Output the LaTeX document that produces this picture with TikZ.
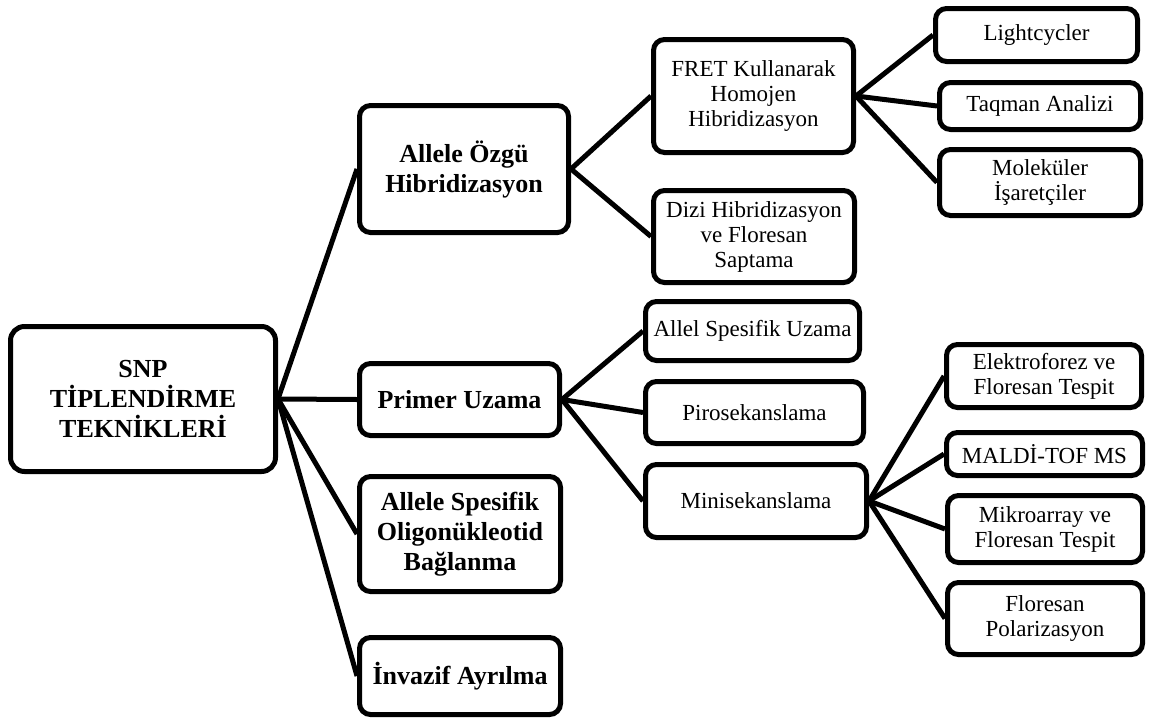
\documentclass[tikz,border=0pt]{standalone}
\usepackage{fontspec}
\setmainfont{Liberation Serif}
\usepackage{tikz}

\begin{document}
\begin{tikzpicture}[
  x=1pt, y=-1pt,
  every node/.style={font=\fontsize{23}{25}\selectfont},
  techbox/.style={rectangle, draw, line width=5pt, rounded corners=11pt,
    align=center, inner sep=2pt},
  mainbox/.style={techbox, font=\fontsize{26}{30}\selectfont\bfseries},
  conn/.style={line width=5pt},
]
\useasboundingbox (0,0) rectangle (1158,720);

% Root
\node[mainbox, rounded corners=14pt, minimum width=265pt, minimum height=145pt] (snp) at (143,399)
  {SNP\\TİPLENDİRME\\TEKNİKLERİ};

% Main techniques
\node[mainbox, minimum width=209pt, minimum height=127pt] (ozgu) at (464,169) {Allele Özgü\\Hibridizasyon};
\node[mainbox, minimum width=200pt, minimum height=72pt] (primer) at (459.5,399.5) {Primer Uzama};
\node[mainbox, minimum width=201pt, minimum height=115pt] (oligo) at (460,534) {Allele Spesifik\\Oligonükleotid\\Bağlanma};
\node[mainbox, minimum width=201pt, minimum height=77pt] (invazif) at (460,676) {İnvazif Ayrılma};

% Hybridization branch
\node[techbox, minimum width=200pt, minimum height=113pt] (fret) at (753.5,96) {FRET Kullanarak\\Homojen\\Hibridizasyon};
\node[techbox, minimum width=201pt, minimum height=92pt] (dizi) at (754,236.5) {Dizi Hibridizasyon\\ve Floresan\\Saptama};
\node[techbox, minimum width=202pt, minimum height=53pt] (light) at (1036.5,35) {Lightcycler};
\node[techbox, minimum width=201pt, minimum height=47pt] (taqman) at (1040,106) {Taqman Analizi};
\node[techbox, minimum width=201pt, minimum height=66pt] (molek) at (1040,182.5) {Moleküler\\İşaretçiler};

% Primer extension branch
\node[techbox, minimum width=214pt, minimum height=59pt] (uzama) at (752.5,331) {Allel Spesifik Uzama};
\node[techbox, minimum width=218pt, minimum height=62pt] (piro) at (754.5,412.5) {Pirosekanslama};
\node[techbox, minimum width=221pt, minimum height=73pt] (mini) at (756,501) {Minisekanslama};
\node[techbox, minimum width=195pt, minimum height=63pt] (elektro) at (1044,376) {Elektroforez ve\\Floresan Tespit};
\node[techbox, minimum width=196pt, minimum height=43pt] (maldi) at (1044.5,454) {MALDİ-TOF MS};
\node[techbox, minimum width=195pt, minimum height=67pt] (mikro) at (1045,529) {Mikroarray ve\\Floresan Tespit};
\node[techbox, minimum width=195pt, minimum height=72pt] (polar) at (1045,618.5) {Floresan\\Polarizasyon};

% Connectors
\draw[conn] (snp.east) -- (ozgu.west);
\draw[conn] (snp.east) -- (primer.west);
\draw[conn] (snp.east) -- (oligo.west);
\draw[conn] (snp.east) -- (invazif.west);

\draw[conn] (ozgu.east) -- (fret.west);
\draw[conn] (ozgu.east) -- (dizi.west);
\draw[conn] (fret.east) -- (light.west);
\draw[conn] (fret.east) -- (taqman.west);
\draw[conn] (fret.east) -- (molek.west);

\draw[conn] (primer.east) -- (uzama.west);
\draw[conn] (primer.east) -- (piro.west);
\draw[conn] (primer.east) -- (mini.west);
\draw[conn] (mini.east) -- (elektro.west);
\draw[conn] (mini.east) -- (maldi.west);
\draw[conn] (mini.east) -- (mikro.west);
\draw[conn] (mini.east) -- (polar.west);

\end{tikzpicture}
\end{document}
